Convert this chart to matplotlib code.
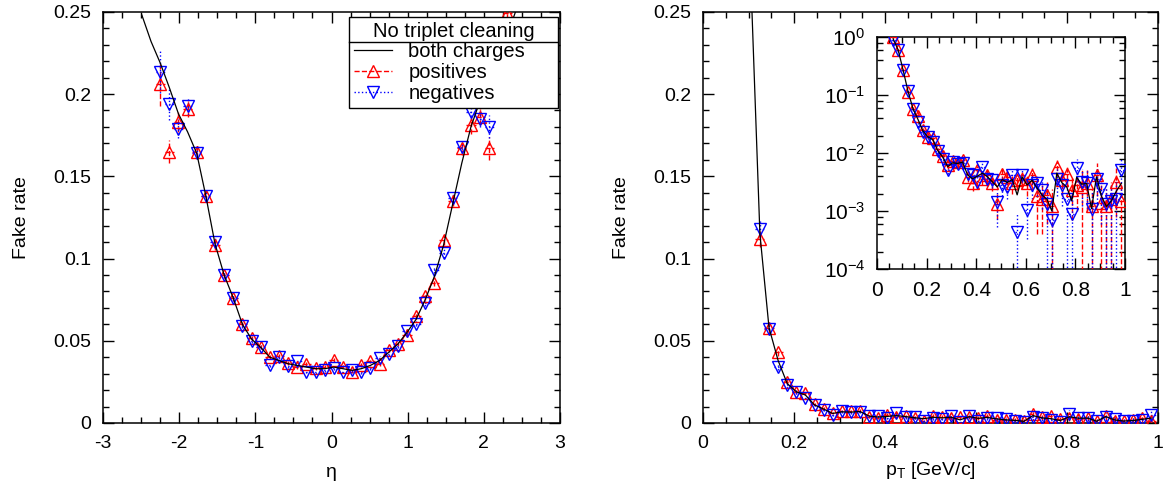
import numpy as np
import matplotlib
matplotlib.use('Agg')
import matplotlib.pyplot as plt
from matplotlib.lines import Line2D
from matplotlib.ticker import MultipleLocator, FormatStrFormatter, LogLocator

plt.rcParams['font.family'] = ['Liberation Sans', 'DejaVu Sans']
plt.rcParams['font.size'] = 14
plt.rcParams['mathtext.fontset'] = 'custom'
plt.rcParams['mathtext.rm'] = 'Liberation Sans'
plt.rcParams['mathtext.it'] = 'Liberation Sans:italic'

# ---- eta panel ----
eta_bins = [-2.49, -2.37, -2.25, -2.13, -2.01, -1.89, -1.77, -1.65, -1.53, -1.41,
            -1.29, -1.17, -1.05, -0.93, -0.81, -0.69, -0.57, -0.45, -0.33, -0.21,
            -0.09, 0.03, 0.15, 0.27, 0.39, 0.51, 0.63, 0.75, 0.87, 0.99,
            1.11, 1.23, 1.35, 1.47, 1.59, 1.71, 1.83, 1.95, 2.07, 2.19,
            2.31, 2.43]
both_eta = [0.248, 0.232, 0.219, 0.204, 0.188, 0.177, 0.164, 0.138, 0.109, 0.090,
            0.076, 0.060, 0.051, 0.046, 0.040, 0.038, 0.036, 0.035, 0.034, 0.033,
            0.033, 0.034, 0.033, 0.032, 0.033, 0.035, 0.038, 0.043, 0.048, 0.055,
            0.063, 0.075, 0.089, 0.108, 0.133, 0.158, 0.180, 0.196, 0.207, 0.220,
            0.236, 0.252]
eta_pts = eta_bins[2:41]
pos_eta = [0.206, 0.165, 0.183, 0.191, 0.165, 0.138, 0.108, 0.090, 0.076, 0.060,
           0.0515, 0.046, 0.040, 0.0406, 0.0364, 0.034, 0.036, 0.0333, 0.0343, 0.0384,
           0.0343, 0.0313, 0.0354, 0.0374, 0.036, 0.0445, 0.0482, 0.0537, 0.0648, 0.077,
           0.0852, 0.111, 0.135, 0.167, 0.181, 0.186, 0.167, 0.218, 0.249]
pos_eta_err = [0.013, 0.007, 0.006, 0.005, 0.004, 0.003, 0.003, 0.002, 0.002, 0.0015,
               0.0015, 0.0013, 0.0012, 0.0012, 0.0011, 0.0011, 0.0011, 0.0011, 0.0011, 0.0011,
               0.0011, 0.0011, 0.0011, 0.0011, 0.0011, 0.0012, 0.0013, 0.0014, 0.0015, 0.002,
               0.002, 0.003, 0.003, 0.004, 0.005, 0.005, 0.007, 0.009, 0.017]
neg_eta = [0.2136, 0.194, 0.179, 0.1925, 0.1644, 0.138, 0.110, 0.090, 0.076, 0.059,
           0.050, 0.0462, 0.0354, 0.0404, 0.0348, 0.0374, 0.0313, 0.0307, 0.0323, 0.0333,
           0.0313, 0.0323, 0.0307, 0.0333, 0.0394, 0.042, 0.047, 0.0557, 0.0604, 0.073,
           0.0933, 0.1035, 0.137, 0.168, 0.189, 0.185, 0.180, 0.217, np.nan]
neg_eta_err = [0.013, 0.010, 0.006, 0.005, 0.004, 0.003, 0.003, 0.002, 0.002, 0.0015,
               0.0015, 0.0013, 0.0012, 0.0012, 0.0011, 0.0011, 0.0011, 0.0011, 0.0011, 0.0011,
               0.0011, 0.0011, 0.0011, 0.0011, 0.0012, 0.0012, 0.0013, 0.0014, 0.0015, 0.002,
               0.002, 0.003, 0.003, 0.004, 0.005, 0.005, 0.007, 0.010, np.nan]

# ---- pT panel ----
pt_bins = [0.065, 0.085, 0.105, 0.125, 0.145, 0.165, 0.185, 0.205, 0.225, 0.245,
           0.265, 0.285, 0.305, 0.325, 0.345, 0.365, 0.385, 0.405, 0.425, 0.445,
           0.465, 0.485, 0.505, 0.525, 0.545, 0.565, 0.585, 0.605, 0.625, 0.645,
           0.665, 0.685, 0.705, 0.725, 0.745, 0.765, 0.785, 0.805, 0.825, 0.845,
           0.865, 0.885, 0.905, 0.925, 0.945, 0.965, 0.985]
both_pt = [0.93, 0.60, 0.27, 0.115, 0.058, 0.038, 0.024, 0.019, 0.017, 0.011,
           0.0085, 0.0058, 0.0068, 0.0066, 0.0070, 0.0042, 0.0036, 0.0040, 0.0045, 0.0039,
           0.0032, 0.0026, 0.0035, 0.0031, 0.0035, 0.0019, 0.0039, 0.0028, 0.0034, 0.0025,
           0.0019, 0.0016, 0.0010, 0.0045, 0.0031, 0.0026, 0.0015, 0.0038, 0.0029, 0.0030,
           0.0011, 0.0039, 0.0018, 0.0012, 0.0015, 0.0022, 0.0030]
pos_pt = [1.0, 0.60, 0.27, 0.112, 0.058, 0.043, 0.025, 0.019, 0.018, 0.0115,
          0.0088, 0.0061, 0.0072, 0.0070, 0.0075, 0.0039, 0.0030, 0.0050, 0.0036, 0.0042,
          0.0031, 0.00134, 0.0044, 0.0039, 0.0030, 0.0034, 0.0036, 0.0030, 0.0042, 0.0018,
          0.0016, 0.0019, 0.0012, 0.0057, 0.0034, 0.0044, 0.0023, 0.0028, 0.0026, 0.0030,
          0.0012, 0.0042, 0.0014, 0.0012, 0.0016, 0.0032, 0.0015]
pos_pt_err = [0.04, 0.03, 0.012, 0.005, 0.003, 0.002, 0.0015, 0.0012, 0.0011, 0.0009,
              0.0008, 0.0007, 0.0007, 0.0007, 0.0008, 0.0007, 0.0008, 0.0009, 0.0008, 0.0009,
              0.0009, 0.0006, 0.0011, 0.0011, 0.0010, 0.0011, 0.0012, 0.0012, 0.0014, 0.0014,
              0.0012, 0.0013, 0.0012, 0.0020, 0.0016, 0.0018, 0.0016, 0.0018, 0.0026, 0.0020,
              0.0012, 0.0024, 0.0014, 0.0012, 0.0016, 0.0024, 0.0015]
neg_pt = [0.88, 0.59, 0.27, 0.118, 0.057, 0.034, 0.023, 0.019, 0.0155, 0.011,
          0.008, 0.0051, 0.007, 0.0064, 0.0067, 0.0044, 0.0042, 0.0032, 0.0058, 0.0036,
          0.0034, 0.00142, 0.0028, 0.0026, 0.0042, 0.00044, 0.0042, 0.00103, 0.0028, 0.0030,
          0.0023, 0.0013, 0.00069, 0.0036, 0.0028, 0.0016, 0.0009, 0.0056, 0.0032, 0.0031,
          0.0011, 0.0036, 0.0024, 0.0013, 0.0015, 0.0016, 0.0050]
neg_pt_err = [0.04, 0.03, 0.012, 0.005, 0.003, 0.002, 0.0015, 0.0012, 0.0011, 0.0009,
              0.0008, 0.0007, 0.0007, 0.0007, 0.0008, 0.0008, 0.0008, 0.0008, 0.0010, 0.0009,
              0.0009, 0.0009, 0.0010, 0.0010, 0.0011, 0.00044, 0.0012, 0.0007, 0.0012, 0.0012,
              0.0012, 0.0013, 0.00069, 0.0018, 0.0016, 0.0016, 0.0009, 0.0024, 0.0020, 0.0020,
              0.0011, 0.0022, 0.0018, 0.0013, 0.0015, 0.0016, 0.0030]


def style_ticks(ax):
    ax.tick_params(which='both', direction='in', top=True, right=True, width=1)
    ax.tick_params(which='major', length=8, pad=8.5)
    ax.tick_params(which='minor', length=4.5)
    for s in ax.spines.values():
        s.set_linewidth(1.1)


def draw_points(ax, x, y, yerr, xerr, color, marker, ls):
    eb = ax.errorbar(x, y, yerr=yerr, xerr=xerr, fmt=marker, color=color, mfc='none',
                     mec=color, ms=8, mew=1, elinewidth=1, capsize=0, zorder=3)
    for bc in eb[2]:
        bc.set_linestyle(ls)
    return eb


fig = plt.figure(figsize=(11.68, 4.91), dpi=100)

ax1 = fig.add_axes([0.0882, 0.1385, 0.3913, 0.8375])
ax1.plot(eta_bins, both_eta, color='black', lw=0.9, zorder=4)
draw_points(ax1, eta_pts, pos_eta, pos_eta_err, 0.06, 'red', '^', '--')
draw_points(ax1, eta_pts, neg_eta, neg_eta_err, 0.06, 'blue', 'v', ':')
ax1.set_xlim(-3, 3)
ax1.set_ylim(0, 0.25)
ax1.xaxis.set_major_locator(MultipleLocator(1))
ax1.xaxis.set_minor_locator(MultipleLocator(0.25))
ax1.yaxis.set_major_locator(MultipleLocator(0.05))
ax1.yaxis.set_minor_locator(MultipleLocator(0.01))
ax1.xaxis.set_major_formatter(FormatStrFormatter('%g'))
ax1.yaxis.set_major_formatter(FormatStrFormatter('%g'))
ax1.set_xlabel('\u03b7', labelpad=9)
ax1.set_ylabel('Fake rate', labelpad=17)
style_ticks(ax1)

handles = [Line2D([], [], color='black', lw=0.9),
           Line2D([], [], color='red', ls='--', lw=1, marker='^', mfc='none', ms=8),
           Line2D([], [], color='blue', ls=':', lw=1, marker='v', mfc='none', ms=8)]
leg = ax1.legend(handles, ['both charges', 'positives', 'negatives'],
                 title='No triplet cleaning', loc='upper left', mode='expand',
                 bbox_to_anchor=(0.538, 0.78, 0.457, 0.208), borderaxespad=0,
                 fancybox=False, framealpha=1, edgecolor='black',
                 fontsize=14.5, title_fontsize=14.5,
                 borderpad=0.25, labelspacing=0.08, handlelength=1.9, handletextpad=0.8)
leg.get_frame().set_linewidth(1)

ax2 = fig.add_axes([0.6019, 0.1385, 0.3896, 0.8375])
ax2.plot(pt_bins, both_pt, color='black', lw=0.9, zorder=4)
draw_points(ax2, pt_bins, pos_pt, pos_pt_err, 0.01, 'red', '^', '--')
draw_points(ax2, pt_bins, neg_pt, neg_pt_err, 0.01, 'blue', 'v', ':')
ax2.set_xlim(0, 1)
ax2.set_ylim(0, 0.25)
ax2.xaxis.set_major_locator(MultipleLocator(0.2))
ax2.xaxis.set_minor_locator(MultipleLocator(0.05))
ax2.yaxis.set_major_locator(MultipleLocator(0.05))
ax2.yaxis.set_minor_locator(MultipleLocator(0.01))
ax2.xaxis.set_major_formatter(FormatStrFormatter('%g'))
ax2.yaxis.set_major_formatter(FormatStrFormatter('%g'))
ax2.set_xlabel('p$_\\mathregular{T}$ [GeV/c]', labelpad=6)
ax2.set_ylabel('Fake rate', labelpad=17)
style_ticks(ax2)

ins = fig.add_axes([0.7509, 0.4521, 0.2123, 0.4725])
ins.set_yscale('log', nonpositive='clip')
ins.plot(pt_bins, both_pt, color='black', lw=0.9, zorder=4)
draw_points(ins, pt_bins, pos_pt, pos_pt_err, 0.01, 'red', '^', '--')
draw_points(ins, pt_bins, neg_pt, neg_pt_err, 0.01, 'blue', 'v', ':')
ins.set_xlim(0, 1)
ins.set_ylim(1e-4, 1)
ins.xaxis.set_major_locator(MultipleLocator(0.2))
ins.xaxis.set_minor_locator(MultipleLocator(0.05))
ins.xaxis.set_major_formatter(FormatStrFormatter('%g'))
ins.yaxis.set_major_locator(LogLocator(base=10, numticks=10))
ins.yaxis.set_minor_locator(LogLocator(base=10, subs=(2, 4, 6, 8), numticks=10))
ins.yaxis.set_minor_formatter(plt.NullFormatter())
ins.tick_params(labelsize=15)
style_ticks(ins)

# line under the legend header
fig.canvas.draw()
r = fig.canvas.get_renderer()
fb = leg.get_frame().get_window_extent(r)
tb = leg.get_title().get_window_extent(r)
inv = fig.transFigure.inverted()
(x0, yl), (x1, _) = inv.transform([(fb.x0, tb.y0 - 1.5), (fb.x1, tb.y0 - 1.5)])
fig.add_artist(Line2D([x0, x1], [yl, yl], color='black', lw=1))

plt.savefig('out.png', dpi=100)
